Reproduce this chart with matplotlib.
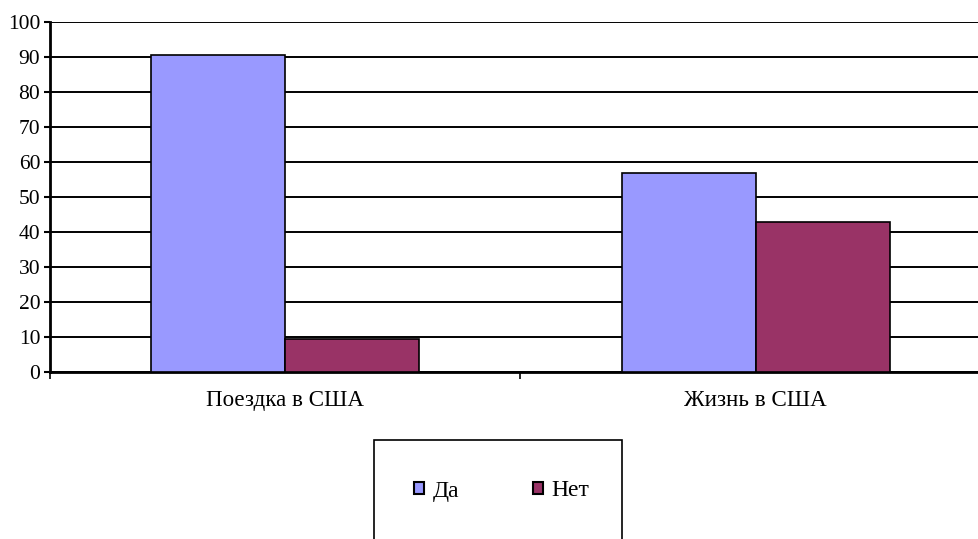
import numpy as np
import matplotlib.pyplot as plt
from matplotlib.patches import Rectangle, Patch

# survey answers, percent
categories = ["Поездка в США", "Жизнь в США"]
series_names = ["Да", "Нет"]
yes_values = [90.5, 57]
no_values = [9.5, 43]
y_ticks = list(range(0, 101, 10))

plt.rcParams['font.family'] = ['Liberation Serif', 'DejaVu Serif']

fig = plt.figure(figsize=(9.79, 5.39), dpi=100)
W, H = 979, 539
# axes spans a bit past the right edge of the figure
ax = fig.add_axes([50 / W, (H - 372) / H, 941 / W, 350 / H])

x = np.arange(len(categories))
bw = 0.285
ax.bar(x - bw / 2, yes_values, bw, color="#9999FF", edgecolor="black", linewidth=1.2, zorder=3)
ax.bar(x + bw / 2, no_values, bw, color="#993366", edgecolor="black", linewidth=1.2, zorder=3)

ax.set_xlim(-0.5, 1.5)
ax.set_ylim(0, 100)
ax.set_yticks(y_ticks)
ax.yaxis.grid(True, color="black", linewidth=1.4, zorder=0)
ax.set_axisbelow(True)

ax.set_xticks(x)
ax.set_xticklabels(categories, fontsize=16.6)
ax.tick_params(axis="x", length=0, pad=13)
ax.set_xticks([-0.5, 0.5, 1.5], minor=True)
ax.tick_params(axis="x", which="minor", length=5, width=1.2, color="black")
ax.tick_params(axis="y", labelsize=15.5, length=4, width=1.5, pad=3)

for s in ["top", "right"]:
    ax.spines[s].set_visible(False)
ax.spines["left"].set_linewidth(2)
ax.spines["bottom"].set_linewidth(2)

# legend frame at the bottom
fig.patches.append(Rectangle((374 / W, -0.05), 248 / W, (H - 440) / H + 0.05,
                             transform=fig.transFigure, fill=False,
                             edgecolor="black", linewidth=1.2))
handles = [Patch(facecolor="#9999FF", edgecolor="black", linewidth=1.5),
           Patch(facecolor="#993366", edgecolor="black", linewidth=1.5)]
fig.legend(handles, series_names, loc="center", bbox_to_anchor=(502 / W, (H - 491) / H),
           ncol=2, frameon=False, fontsize=17, handlelength=0.42, handleheight=0.42,
           handletextpad=0.38, columnspacing=3.1)

fig.savefig("out.png", dpi=100)
